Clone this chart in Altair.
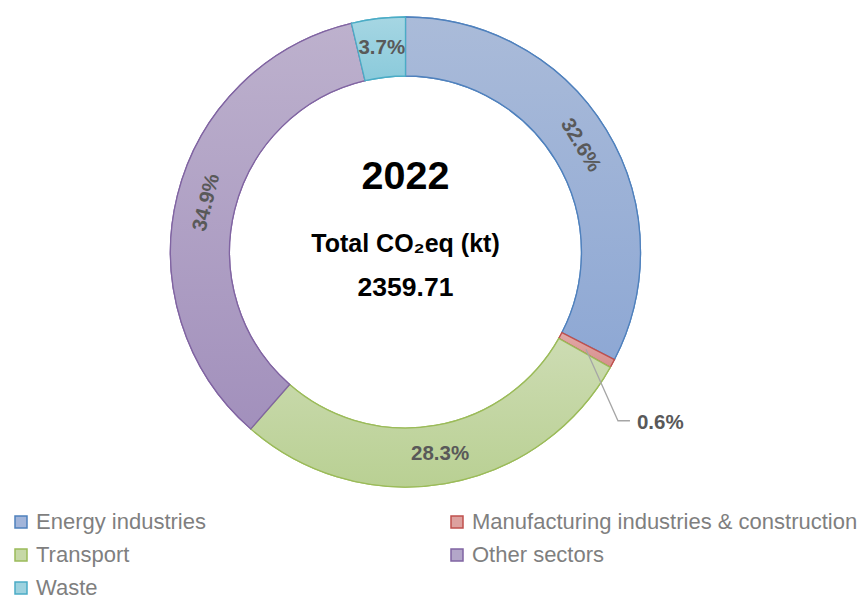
import json
import altair as alt
import pandas as pd

# ---- data ----
sectors = ["Energy industries", "Manufacturing industries & construction",
           "Transport", "Other sectors", "Waste"]
shares = [32.6, 0.6, 28.3, 34.9, 3.7]          # % of total CO2eq
year_label = "2022"
total_title = "Total CO₂eq (kt)"
total_value = "2359.71"

# ---- styles ----
legend_fills = ["#a2b5da", "#dda19f", "#c6d8a6", "#b3a6c9", "#9dd2df"]
strokes = ["#4f81bd", "#c0504d", "#9bbb59", "#8064a2", "#4bacc6"]
grad_top = ["#aabbd9", "#e2a9a7", "#cddcb3", "#bdb1cd", "#a6d6e3"]
grad_bottom = ["#8ea8d4", "#d68f8d", "#b9d093", "#a290bc", "#8acadb"]
rotated = ["Energy industries", "Other sectors"]

W, H = 852, 575
CX, CY = 397.5, 244
R_IN, R_OUT, R_LAB = 176, 235, 205
FONT = "Liberation Sans"

df = pd.DataFrame({"sector": sectors, "share": shares,
                   "order": list(range(len(sectors)))})
total = sum(shares)
theta_scale = alt.Scale(domain=[0, total])

base = alt.Chart(df).transform_window(
    cum="sum(share)", sort=[alt.SortField("order")], frame=[None, 0]
).transform_calculate(
    start="datum.cum - datum.share",
    mid="datum.cum - datum.share / 2",
    deg=f"(datum.cum - datum.share / 2) / {total} * 360",
    label="format(datum.share, '.1f') + '%'",
)

legend = alt.Legend(
    title=None, orient="none", legendX=2, legendY=503, columns=2,
    direction="horizontal",
    symbolType="square", symbolSize=144, symbolStrokeWidth=1.5,
    labelFont=FONT, labelFontSize=22, labelColor="#7f7f7f",
    rowPadding=11, columnPadding=240, labelLimit=600, labelOffset=4,
    padding=0,
)

arcs = base.mark_arc(innerRadius=R_IN, outerRadius=R_OUT, strokeWidth=1.3).encode(
    x=alt.value(CX), y=alt.value(CY),
    theta=alt.Theta("start:Q", scale=theta_scale, stack=None),
    theta2="cum:Q",
    color=alt.Color("sector:N", scale=alt.Scale(domain=sectors, range=legend_fills),
                    legend=legend),
    stroke=alt.Stroke("sector:N", scale=alt.Scale(domain=sectors, range=strokes),
                      legend=legend),
)

conds = []
for s, t, b in zip(sectors, grad_top, grad_bottom):
    conds.append({
        "test": f"datum.sector === {json.dumps(s)}",
        "value": {"gradient": "linear", "x1": 0, "y1": 0, "x2": 0, "y2": 1,
                  "stops": [{"offset": 0, "color": t}, {"offset": 1, "color": b}]},
    })

arcs_grad = base.mark_arc(innerRadius=R_IN, outerRadius=R_OUT, strokeWidth=1.3).encode(
    x=alt.value(CX), y=alt.value(CY),
    theta=alt.Theta("start:Q", scale=theta_scale, stack=None),
    theta2="cum:Q",
    color=alt.ColorValue(value="#ffffff", condition=conds),
    stroke=alt.Stroke("sector:N", scale=alt.Scale(domain=sectors, range=strokes),
                      legend=legend),
)

ring_labels = base.transform_filter(
    alt.datum.sector != sectors[1]
).transform_calculate(
    rot=f"indexof({json.dumps(rotated)}, datum.sector) >= 0 ? datum.deg : 0"
).mark_text(font=FONT, fontWeight="bold", fontSize=20.5, color="#595959",
            baseline="middle", align="center").encode(
    x=alt.value(CX), y=alt.value(CY),
    theta=alt.Theta("mid:Q", scale=theta_scale, stack=None),
    radius=alt.value(R_LAB),
    text="label:N",
    angle=alt.Angle("rot:Q", scale=None),
)

xs = alt.Scale(domain=[-CX, W - CX], nice=False, zero=False)
ys = alt.Scale(domain=[-CY, H - CY], nice=False, zero=False, reverse=True)

small = base.transform_filter(alt.datum.sector == sectors[1]).transform_calculate(
    x0=f"{R_LAB} * sin(datum.deg * PI / 180)",
    y0=f"-{R_LAB} * cos(datum.deg * PI / 180)",
)

leader = small.transform_calculate(
    px="[datum.x0, datum.x0 + 32, datum.x0 + 44]",
    py="[datum.y0, datum.y0 + 71.5, datum.y0 + 71.5]",
    idx="[0, 1, 2]",
).transform_flatten(["px", "py", "idx"]).mark_line(
    color="#a6a6a6", strokeWidth=1.3
).encode(
    x=alt.X("px:Q", scale=xs, axis=None),
    y=alt.Y("py:Q", scale=ys, axis=None),
    order="idx:Q",
)

small_label = small.transform_calculate(
    lx="datum.x0 + 51", ly="datum.y0 + 74"
).mark_text(font=FONT, fontWeight="bold", fontSize=20.5, color="#595959",
            baseline="middle", align="left").encode(
    x=alt.X("lx:Q", scale=xs, axis=None),
    y=alt.Y("ly:Q", scale=ys, axis=None),
    text="label:N",
)

def center_text(txt, size, y):
    return alt.Chart(pd.DataFrame({"t": [txt]})).mark_text(
        font=FONT, fontWeight="bold", fontSize=size, color="#000000",
        align="center", baseline="alphabetic"
    ).encode(x=alt.value(CX), y=alt.value(y), text="t:N")

chart = alt.layer(
    arcs, arcs_grad, ring_labels, leader, small_label,
    center_text(year_label, 39.5, 181),
    center_text(total_title, 25, 244),
    center_text(total_value, 26.5, 288),
).properties(
    width=W, height=H, padding=0, background="#ffffff"
).configure_view(stroke=None)

chart.save("out.html", embed_options={"renderer": "svg", "actions": False})
